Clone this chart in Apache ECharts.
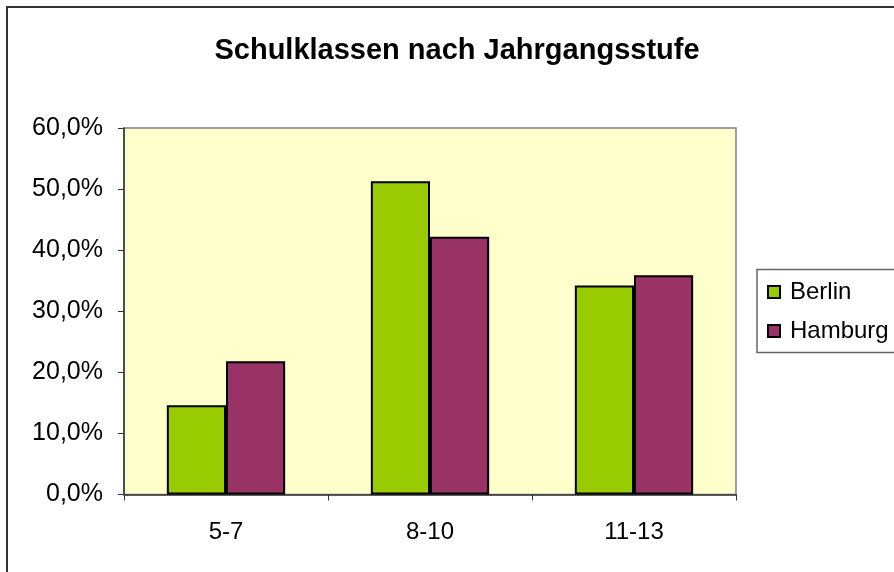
<!DOCTYPE html>
<html>
<head>
<meta charset="utf-8">
<script src="https://cdn.jsdelivr.net/npm/echarts@6/dist/echarts.min.js"></script>
<style>
  html, body { margin: 0; padding: 0; background: #fff; }
  #chart { width: 894px; height: 572px; }
</style>
</head>
<body>
<div id="chart"></div>
<script>
  // Jahrgangsstufen und Anteile (in %)
  var categories = ['5-7', '8-10', '11-13'];
  var berlin = [14.6, 51.3, 34.2];
  var hamburg = [21.8, 42.2, 35.9];
  var seriesNames = ['Berlin', 'Hamburg'];

  var chart = echarts.init(document.getElementById('chart'));
  var font = 'Liberation Sans, Arial, sans-serif';

  var option = {
    animation: false,
    backgroundColor: '#fff',
    title: {
      text: 'Schulklassen nach Jahrgangsstufe',
      left: 452,
      top: 31,
      textAlign: 'center',
      textStyle: {fontFamily: font, fontSize: 29, fontWeight: 'bold', color: '#000'}
    },
    graphic: [
      {
        type: 'rect',
        shape: {x: 7, y: 7, width: 1000, height: 1000},
        style: {fill: 'none', stroke: '#333', lineWidth: 2},
        silent: true
      },
      {
        type: 'rect',
        shape: {x: 757, y: 269.5, width: 300, height: 83},
        style: {fill: '#fff', stroke: '#666', lineWidth: 1.5},
        silent: true
      }
    ],
    legend: {
      orient: 'vertical',
      left: 762,
      top: 275,
      itemWidth: 12,
      itemHeight: 12,
      itemGap: 15,
      icon: 'rect',
      textStyle: {fontFamily: font, fontSize: 24, color: '#000', padding: [0, 0, 0, 5]},
      data: seriesNames
    },
    grid: {
      left: 124,
      right: 158,
      top: 128,
      bottom: 77.5,
      show: true,
      backgroundColor: '#FFFFCC',
      borderColor: '#808080',
      borderWidth: 1.5
    },
    xAxis: {
      type: 'category',
      data: categories,
      axisLine: {lineStyle: {color: '#333', width: 1.5}},
      axisTick: {show: true, length: 6, lineStyle: {color: '#333'}},
      axisLabel: {fontFamily: font, fontSize: 24, color: '#000', margin: 26}
    },
    yAxis: {
      type: 'value',
      min: 0,
      max: 60,
      interval: 10,
      splitLine: {show: false},
      axisLine: {show: true, lineStyle: {color: '#333', width: 1.5}},
      axisTick: {show: true, length: 6, lineStyle: {color: '#333'}},
      axisLabel: {
        fontFamily: font, fontSize: 25, color: '#000', margin: 21,
        formatter: function (v) {
          return v.toFixed(1).replace('.', ',') + '%';
        }
      }
    },
    series: [
      {
        name: seriesNames[0],
        type: 'bar',
        data: berlin,
        barGap: '0%',
        barCategoryGap: '42%',
        itemStyle: {color: '#99CC00', borderColor: '#000', borderWidth: 2}
      },
      {
        name: seriesNames[1],
        type: 'bar',
        data: hamburg,
        barGap: '0%',
        barCategoryGap: '42%',
        itemStyle: {color: '#993366', borderColor: '#000', borderWidth: 2}
      }
    ]
  };

  chart.setOption(option);
  window.addEventListener('resize', function () {
    chart.resize();
  });
</script>
</body>
</html>
